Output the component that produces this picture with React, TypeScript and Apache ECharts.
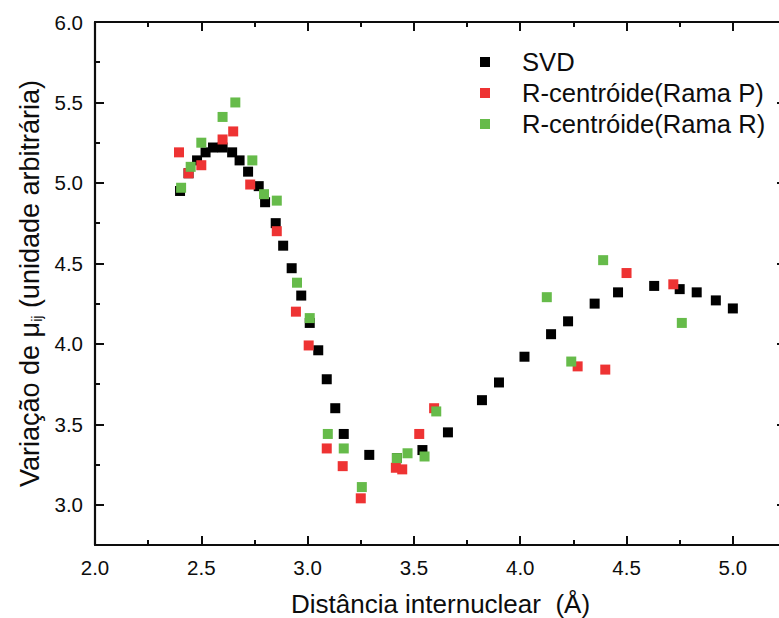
import React, { useEffect, useRef } from "react";
import * as echarts from "echarts";

// SVD
const svdX = [2.40, 2.44, 2.48, 2.52, 2.555, 2.60, 2.645, 2.68, 2.72, 2.77, 2.80, 2.85, 2.885, 2.925, 2.97, 3.01, 3.05, 3.09, 3.13, 3.17, 3.29, 3.42, 3.54, 3.66, 3.82, 3.90, 4.02, 4.145, 4.225, 4.35, 4.46, 4.63, 4.75, 4.83, 4.92, 5.00];
const svdY = [4.95, 5.06, 5.14, 5.19, 5.22, 5.22, 5.19, 5.14, 5.07, 4.98, 4.88, 4.75, 4.61, 4.47, 4.30, 4.13, 3.96, 3.78, 3.60, 3.44, 3.31, 3.29, 3.34, 3.45, 3.65, 3.76, 3.92, 4.06, 4.14, 4.25, 4.32, 4.36, 4.34, 4.32, 4.27, 4.22];

// R-centróide (Rama P)
const ramaPX = [2.395, 2.44, 2.50, 2.60, 2.65, 2.73, 2.855, 2.945, 3.005, 3.09, 3.165, 3.25, 3.415, 3.445, 3.525, 3.595, 4.27, 4.40, 4.50, 4.72];
const ramaPY = [5.19, 5.06, 5.11, 5.27, 5.32, 4.99, 4.70, 4.20, 3.99, 3.35, 3.24, 3.04, 3.23, 3.22, 3.44, 3.60, 3.86, 3.84, 4.44, 4.37];

// R-centróide (Rama R)
const ramaRX = [2.405, 2.45, 2.50, 2.60, 2.66, 2.74, 2.795, 2.855, 2.95, 3.01, 3.095, 3.17, 3.255, 3.42, 3.47, 3.55, 3.605, 4.125, 4.24, 4.39, 4.76];
const ramaRY = [4.97, 5.10, 5.25, 5.41, 5.50, 5.14, 4.93, 4.89, 4.38, 4.16, 3.44, 3.35, 3.11, 3.29, 3.32, 3.30, 3.58, 4.29, 3.89, 4.52, 4.13];

const seriesNames = ["SVD", "R-centróide(Rama P)", "R-centróide(Rama R)"];
const seriesColors = ["#000000", "#ee3333", "#66bb4a"];

const xMajor = [2.0, 2.5, 3.0, 3.5, 4.0, 4.5, 5.0];
const xMinor = [2.25, 2.75, 3.25, 3.75, 4.25, 4.75];
const yMajor = [3.0, 3.5, 4.0, 4.5, 5.0, 5.5, 6.0];
const yMinor = [3.25, 3.75, 4.25, 4.75, 5.25, 5.75];

const X_MIN = 2.0;
const X_MAX = 5.25;
const Y_MIN = 2.75;
const Y_MAX = 6.0;

const FONT = "'Liberation Sans', Arial, sans-serif";
const INK = "#0d0d0d";

function makeAxis(kind: "x" | "y", position: string, ticks: number[], len: number, main: boolean): any {
  return {
    type: "value",
    position,
    min: kind === "x" ? X_MIN : Y_MIN,
    max: kind === "x" ? X_MAX : Y_MAX,
    axisLine: { show: main, onZero: false, lineStyle: { color: INK, width: 2.2 } },
    axisTick: { show: true, inside: true, length: len, customValues: ticks, lineStyle: { color: INK, width: 2 } },
    axisLabel: {
      show: main && (position === "left" || position === "bottom"),
      customValues: ticks,
      formatter: (v: number) => v.toFixed(1),
      fontFamily: FONT,
      fontSize: 20.5,
      color: INK,
      margin: 12,
    },
    splitLine: { show: false },
    minorTick: { show: false },
  };
}

export default function App() {
  const ref = useRef<HTMLDivElement>(null);
  useEffect(() => {
    if (!ref.current) return;
    const chart = echarts.init(ref.current, null, { renderer: "svg" });
    const xs = [svdX, ramaPX, ramaRX];
    const ys = [svdY, ramaPY, ramaRY];

    const xMain = makeAxis("x", "bottom", xMajor, 9, true);
    xMain.name = "Distância internuclear  (Å)";
    xMain.nameLocation = "middle";
    xMain.nameGap = 46;
    xMain.nameTextStyle = { fontFamily: FONT, fontSize: 26, color: INK };

    const yMain = makeAxis("y", "left", yMajor, 9, true);
    yMain.name = "Variação de {mu|μ}{sub|ij} (unidade arbitrária)";
    yMain.nameLocation = "middle";
    yMain.nameGap = 51;
    yMain.nameTextStyle = {
      fontFamily: FONT,
      fontSize: 27,
      color: INK,
      rich: {
        mu: { fontFamily: FONT, fontSize: 27, color: INK },
        sub: { fontFamily: FONT, fontSize: 14, color: INK, verticalAlign: "bottom", padding: [13, 0, 0, 0] },
      },
    };

    chart.setOption({
      animation: false,
      backgroundColor: "#ffffff",
      grid: { left: 95, top: 22, width: 691, height: 523, containLabel: false, outerBoundsMode: "none" },
      legend: {
        orient: "vertical",
        left: 475,
        top: 44,
        itemGap: 5,
        itemWidth: 10,
        itemHeight: 10,
        icon: "rect",
        data: seriesNames,
        textStyle: { fontFamily: FONT, fontSize: 25.6, color: INK, padding: [0, 0, 0, 27] },
      },
      xAxis: [
        xMain,
        makeAxis("x", "bottom", xMinor, 5, false),
        makeAxis("x", "top", xMajor, 9, true),
        makeAxis("x", "top", xMinor, 5, false),
      ],
      yAxis: [
        yMain,
        makeAxis("y", "left", yMinor, 5, false),
        makeAxis("y", "right", yMajor, 9, true),
        makeAxis("y", "right", yMinor, 5, false),
      ],
      series: seriesNames.map((name, k) => ({
        name,
        type: "scatter",
        symbol: "rect",
        symbolSize: 10,
        xAxisIndex: 0,
        yAxisIndex: 0,
        itemStyle: { color: seriesColors[k], opacity: 1 },
        data: xs[k].map((x, i) => [x, ys[k][i]]),
        z: 2 + k,
      })),
    });
    return () => chart.dispose();
  }, []);
  return (
    <div
      ref={ref}
      style={{ position: "fixed", left: 0, top: 0, width: 779, height: 618, background: "#fff" }}
    />
  );
}
